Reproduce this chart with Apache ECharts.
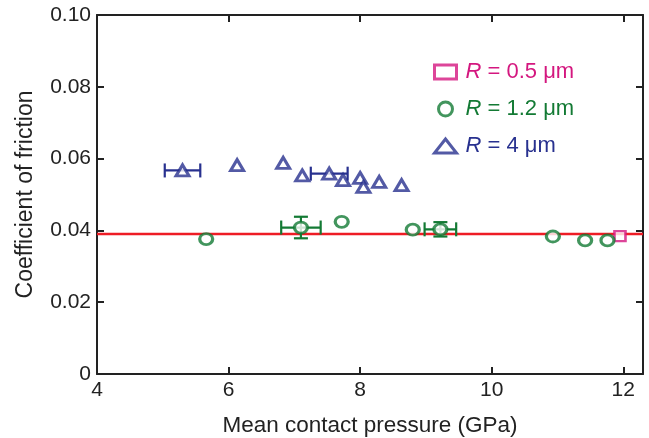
<!DOCTYPE html>
<html><head><meta charset="utf-8">
<script src="https://cdn.jsdelivr.net/npm/echarts@6/dist/echarts.min.js"></script>
<style>html,body{margin:0;padding:0;background:#fff}#c{width:649px;height:438px}</style>
</head><body><div id="c"></div>
<script>
// ---- data ----
const xTicks = [4, 6, 8, 10, 12];
const yTicks = [0, 0.02, 0.04, 0.06, 0.08, 0.10];
const names = ['R = 0.5 μm', 'R = 1.2 μm', 'R = 4 μm'];

const sqX = [11.95];
const sqY = [0.0384];

const circX = [5.66, 7.10, 7.72, 8.80, 9.22, 10.93, 11.42, 11.76];
const circY = [0.0376, 0.0408, 0.0424, 0.0402, 0.0403, 0.0383, 0.0372, 0.0372];
const circXErr = [0, 0.30, 0, 0, 0.24, 0, 0, 0];
const circYErr = [0, 0.003, 0, 0, 0.002, 0, 0, 0];

const triX = [5.30, 6.13, 6.83, 7.12, 7.53, 7.74, 8.00, 8.05, 8.29, 8.63];
const triY = [0.0567, 0.0582, 0.0588, 0.0553, 0.0558, 0.0540, 0.0546, 0.0521, 0.0535, 0.0526];
const triXErr = [0.27, 0, 0, 0, 0.28, 0, 0, 0, 0, 0];
const triYErr = [0, 0, 0, 0, 0, 0, 0, 0, 0, 0];

const fitY = 0.0390;
const fitX = [4, 12.3];

// ---- styling ----
const C_SQ = '#d4177f', C_CI = '#137a34', C_TR = '#28318f';
const FONT = 'Liberation Sans, Arial, sans-serif';

function errData(xs, ys, xe, ye) {
  const out = [];
  xs.forEach((x, i) => { if (xe[i] || ye[i]) out.push([x, ys[i], xe[i], ye[i]]); });
  return out;
}
function errRender(color) {
  return function (params, api) {
    const x = api.value(0), y = api.value(1), ex = api.value(2), ey = api.value(3);
    const ch = [];
    const st = { stroke: color, lineWidth: 2.2 };
    const cap = 7;
    if (ex) {
      const a = api.coord([x - ex, y]), b = api.coord([x + ex, y]);
      ch.push({ type: 'line', shape: { x1: a[0], y1: a[1], x2: b[0], y2: b[1] }, style: st });
      ch.push({ type: 'line', shape: { x1: a[0], y1: a[1] - cap, x2: a[0], y2: a[1] + cap }, style: st });
      ch.push({ type: 'line', shape: { x1: b[0], y1: b[1] - cap, x2: b[0], y2: b[1] + cap }, style: st });
    }
    if (ey) {
      const a = api.coord([x, y - ey]), b = api.coord([x, y + ey]);
      ch.push({ type: 'line', shape: { x1: a[0], y1: a[1], x2: b[0], y2: b[1] }, style: st });
      ch.push({ type: 'line', shape: { x1: a[0] - cap, y1: a[1], x2: a[0] + cap, y2: a[1] }, style: st });
      ch.push({ type: 'line', shape: { x1: b[0] - cap, y1: b[1], x2: b[0] + cap, y2: b[1] }, style: st });
    }
    return { type: 'group', children: ch };
  };
}
function zip(a, b) { return a.map((v, i) => [v, b[i]]); }

const axisLineStyle = { color: '#222', width: 2 };
const baseX = {
  type: 'value', min: 4, max: 12.3, interval: 2,
  axisLine: { show: true, onZero: false, lineStyle: axisLineStyle },
  axisTick: { show: true, inside: true, length: 7, lineStyle: { color: '#222', width: 2 } },
  splitLine: { show: false }
};
const baseY = {
  type: 'value', min: 0, max: 0.1, interval: 0.02,
  axisLine: { show: true, onZero: false, lineStyle: axisLineStyle },
  axisTick: { show: true, inside: true, length: 7, lineStyle: { color: '#222', width: 2 } },
  splitLine: { show: false }
};

function legendItem(name, color) {
  return {
    name: name,
    itemStyle: { borderWidth: 3, borderColor: color, color: '#fff' },
    textStyle: {
      color: color,
      rich: {
        i: { fontStyle: 'italic', color: color, fontSize: 22, fontFamily: FONT, padding: [0, 0, 0, 4] },
        t: { color: color, fontSize: 22, fontFamily: FONT }
      }
    }
  };
}

const option = {
  animation: false,
  backgroundColor: '#fff',
  grid: { left: 97, right: 6, top: 15, bottom: 64, containLabel: false, outerBoundsMode: 'none' },
  xAxis: [
    Object.assign({}, baseX, {
      position: 'bottom',
      name: 'Mean contact pressure (GPa)', nameLocation: 'middle', nameGap: 40,
      nameTextStyle: { fontSize: 22.5, color: '#222', fontFamily: FONT },
      axisLabel: {
        fontSize: 21, color: '#222', fontFamily: FONT, margin: 6,
        formatter: v => (xTicks.indexOf(v) >= 0 ? String(v) : '')
      }
    }),
    Object.assign({}, baseX, { position: 'top', axisLabel: { show: false } })
  ],
  yAxis: [
    Object.assign({}, baseY, {
      position: 'left',
      name: 'Coefficient of friction', nameLocation: 'middle', nameGap: 60,
      nameTextStyle: { fontSize: 23, color: '#222', fontFamily: FONT },
      axisLabel: {
        fontSize: 21, color: '#222', fontFamily: FONT, margin: 6,
        formatter: v => {
          const t = yTicks.find(k => Math.abs(k - v) < 1e-9);
          if (t === undefined) return '';
          return t === 0 ? '0' : t.toFixed(2);
        }
      }
    }),
    Object.assign({}, baseY, { position: 'right', axisLabel: { show: false } })
  ],
  legend: {
    orient: 'vertical', left: 428, top: 56, itemGap: 15,
    itemWidth: 22, itemHeight: 14,
    textStyle: { fontSize: 22, fontFamily: FONT },
    formatter: n => '{i|R}{t| = ' + n.slice(4) + '}',
    data: [legendItem(names[0], C_SQ), legendItem(names[1], C_CI), legendItem(names[2], C_TR)]
  },
  series: [
    {
      name: 'fit', type: 'line', data: zip(fitX, [fitY, fitY]), silent: true, symbol: 'none',
      lineStyle: { color: '#ee1c25', width: 2.5 }, z: 1
    },
    { type: 'custom', renderItem: errRender(C_CI), data: errData(circX, circY, circXErr, circYErr), z: 3, silent: true },
    { type: 'custom', renderItem: errRender(C_TR), data: errData(triX, triY, triXErr, triYErr), z: 3, silent: true },
    {
      name: names[0], type: 'scatter', data: zip(sqX, sqY), symbol: 'rect', symbolSize: [11, 10],
      itemStyle: { color: '#fff', borderColor: C_SQ, borderWidth: 2.5 }, z: 4
    },
    {
      name: names[1], type: 'scatter', data: zip(circX, circY), symbol: 'circle', symbolSize: [13, 11],
      itemStyle: { color: '#fff', borderColor: C_CI, borderWidth: 3 }, z: 4
    },
    {
      name: names[2], type: 'scatter', data: zip(triX, triY), symbol: 'triangle', symbolSize: [13, 11],
      itemStyle: { color: '#fff', borderColor: C_TR, borderWidth: 3 }, z: 4
    }
  ]
};
const chart = echarts.init(document.getElementById('c'), null, { renderer: 'canvas' });
chart.setOption(option);
</script></body></html>
